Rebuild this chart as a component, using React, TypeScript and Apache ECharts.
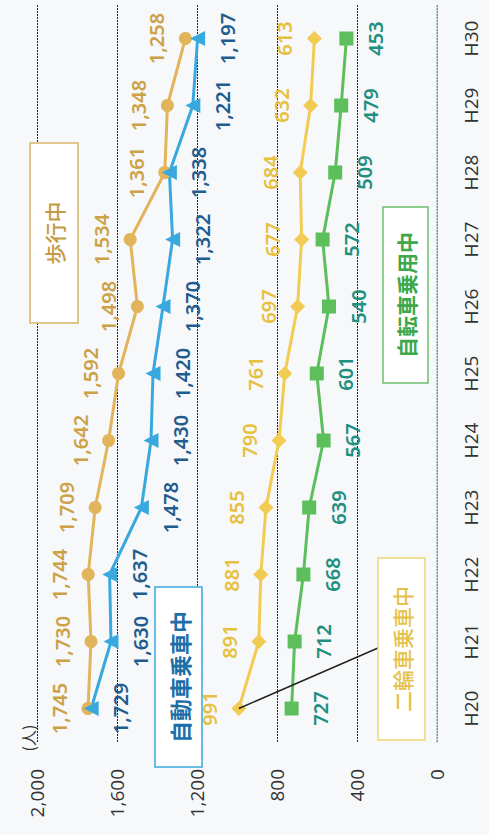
import React, { useEffect, useRef } from 'react';
import * as echarts from 'echarts';

// Fiscal years (Heisei era)
const years = ['H20', 'H21', 'H22', 'H23', 'H24', 'H25', 'H26', 'H27', 'H28', 'H29', 'H30'];

// Casualties by travel mode (persons)
const walking = [1745, 1730, 1744, 1709, 1642, 1592, 1498, 1534, 1361, 1348, 1258];
const car = [1729, 1630, 1637, 1478, 1430, 1420, 1370, 1322, 1338, 1221, 1197];
const motorcycle = [991, 891, 881, 855, 790, 761, 697, 677, 684, 632, 613];
const bicycle = [727, 712, 668, 639, 567, 601, 540, 572, 509, 479, 453];

// Value axis scale
const axisMin = 0;
const axisMax = 2000;
const axisStep = 400;
const unitLabel = '(人)';

// The chart is laid out landscape and turned a quarter turn counter-clockwise.
const W = 835;
const H = 489;

const fmt = (v: number) => v.toLocaleString('en-US');
const labelFont = 'Noto Sans, sans-serif';

function lineSeries(
  name: string,
  data: number[],
  color: string,
  labelColor: string,
  symbol: string,
  symbolSize: number,
  position: 'top' | 'bottom'
) {
  return {
    name,
    type: 'line',
    data,
    symbol,
    symbolSize,
    lineStyle: { color, width: 3 },
    itemStyle: { color },
    label: {
      show: true,
      position,
      distance: 12,
      color: labelColor,
      fontSize: 20,
      fontWeight: 600,
      fontFamily: labelFont,
      formatter: (p: any) => fmt(p.value),
    },
    z: 3,
  };
}

function boxWithText(
  id: string,
  x: number,
  y: number,
  w: number,
  h: number,
  border: string,
  text: string,
  textColor: string,
  fontSize: number,
  fontWeight: string | number
) {
  return {
    type: 'group',
    id,
    children: [
      {
        type: 'rect',
        shape: { x, y, width: w, height: h },
        style: { fill: '#ffffff', stroke: border, lineWidth: 1.5 },
        z: 10,
      },
      {
        type: 'text',
        x: x + w / 2,
        y: y + h / 2,
        style: {
          text,
          fill: textColor,
          fontSize,
          fontWeight,
          fontFamily: 'Noto Sans CJK JP, sans-serif',
          align: 'center',
          verticalAlign: 'middle',
        },
        z: 11,
      },
    ],
  };
}

export default function App() {
  const ref = useRef<HTMLDivElement>(null);

  useEffect(() => {
    if (!ref.current) return;
    const chart = echarts.init(ref.current, undefined, { renderer: 'svg', width: W, height: H });

    chart.setOption({
      animation: false,
      backgroundColor: '#f6f8fa',
      grid: { left: 93, right: 5, top: 37, bottom: 52 },
      xAxis: {
        type: 'category',
        data: years,
        boundaryGap: true,
        axisTick: { show: false },
        axisLine: { lineStyle: { color: '#9cbfd0', type: 'dotted', width: 1.5 } },
        axisLabel: {
          color: '#333333',
          fontSize: 19,
          margin: 24,
          fontFamily: 'Open Sans, sans-serif',
        },
      },
      yAxis: {
        type: 'value',
        min: axisMin,
        max: axisMax,
        interval: axisStep,
        axisLine: { show: false },
        axisTick: { show: false },
        splitLine: { lineStyle: { color: '#222222', type: [2, 1], width: 1 } },
        axisLabel: {
          color: '#333333',
          fontSize: 19,
          margin: 27,
          fontFamily: 'Open Sans, sans-serif',
          formatter: (v: number) => fmt(v),
        },
      },
      series: [
        lineSeries('歩行中', walking, '#e2b45c', '#cda247', 'circle', 13, 'top'),
        lineSeries('自動車乗車中', car, '#38a8de', '#1f5d8e', 'triangle', 15, 'bottom'),
        lineSeries('二輪車乗車中', motorcycle, '#f2cb52', '#e8c040', 'diamond', 15, 'top'),
        lineSeries('自転車乗用中', bicycle, '#5cbf5c', '#1f8f80', 'rect', 14, 'bottom'),
      ],
    });

    // Leader line from the motorcycle label box to its first point
    const end = chart.convertToPixel({ seriesIndex: 2 }, [0, motorcycle[0]]) as number[];

    chart.setOption({
      graphic: {
        elements: [
          {
            type: 'text',
            id: 'unit',
            x: 97,
            y: 36,
            style: {
              text: unitLabel,
              fill: '#333333',
              fontSize: 16,
              fontFamily: 'Noto Sans CJK JP, sans-serif',
              align: 'center',
              verticalAlign: 'bottom',
            },
          },
          {
            type: 'line',
            id: 'leader',
            shape: { x1: 187, y1: 378, x2: end[0], y2: end[1] },
            style: { stroke: '#222222', lineWidth: 1.5 },
            z: 9,
          },
          boxWithText('box-walk', 512, 30, 180, 48, '#d8b56a', '歩行中', '#c49a45', 21, 500),
          boxWithText('box-car', 68, 155, 180, 47, '#3aa9de', '自動車乗車中', '#1d6fa8', 22, 'bold'),
          boxWithText('box-moto', 95, 378, 182, 47, '#ecd67a', '二輪車乗車中', '#e4c24a', 21, 500),
          boxWithText('box-bike', 452, 383, 176, 45, '#6cc06c', '自転車乗用中', '#3ea84a', 21, 'bold'),
        ],
      },
    });

    return () => chart.dispose();
  }, []);

  return (
    <div
      style={{
        position: 'fixed',
        left: 0,
        top: 0,
        width: H,
        height: W,
        overflow: 'hidden',
        background: '#f6f8fa',
      }}
    >
      <div
        ref={ref}
        style={{
          position: 'absolute',
          left: 0,
          top: 0,
          width: W,
          height: H,
          transformOrigin: '0 0',
          transform: `translate(0px, ${W}px) rotate(-90deg)`,
        }}
      />
    </div>
  );
}
